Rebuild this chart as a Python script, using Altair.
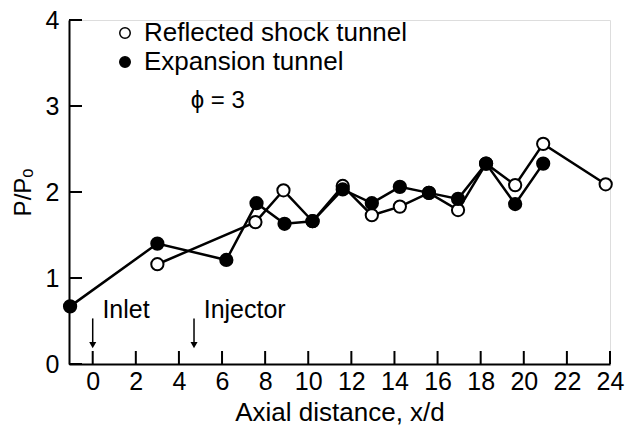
import altair as alt
import pandas as pd

# Reflected shock tunnel (open circles)
rst_x = [3.0, 7.55, 8.85, 10.2, 11.6, 12.95, 14.25, 15.6, 16.95, 18.25, 19.6, 20.9, 23.8]
rst_y = [1.16, 1.65, 2.02, 1.66, 2.07, 1.73, 1.83, 1.99, 1.79, 2.33, 2.08, 2.56, 2.09]
# Expansion tunnel (filled circles)
exp_x = [-1.05, 3.0, 6.2, 7.6, 8.9, 10.2, 11.6, 12.95, 14.25, 15.6, 16.95, 18.25, 19.6, 20.9]
exp_y = [0.67, 1.40, 1.21, 1.87, 1.63, 1.66, 2.03, 1.87, 2.06, 1.99, 1.92, 2.33, 1.86, 2.33]

series_names = ["Reflected shock tunnel", "Expansion tunnel"]
series_fill = ["white", "black"]

x_ticks = [0, 2, 4, 6, 8, 10, 12, 14, 16, 18, 20, 22, 24]
y_ticks = [0, 1, 2, 3, 4]

# annotations
arrow_x = [0.0, 4.7]
arrow_top = [0.53, 0.53]
arrow_bot = [0.22, 0.22]
ann_text = ["Inlet", "Injector"]
ann_x = [0.45, 5.15]
ann_y = [0.63, 0.63]
phi_text = ["\u03d5 = 3"]
phi_x = [5.8]
phi_y = [3.06]

FONT = "Liberation Sans"
FS = 25
FS2 = 26
W, H = 541, 344

rows = []
for x, y in zip(rst_x, rst_y):
    rows.append({"x": x, "y": y, "series": series_names[0], "o": 0})
for x, y in zip(exp_x, exp_y):
    rows.append({"x": x, "y": y, "series": series_names[1], "o": 1})
df = pd.DataFrame(rows)

xs = alt.Scale(domain=[-1.1, 24], nice=False, zero=False)
ys = alt.Scale(domain=[0, 4], nice=False, zero=False)

xaxis = alt.Axis(values=x_ticks, ticks=False, grid=False, domainColor="black", domainWidth=2,
                 labelFont=FONT, labelFontSize=FS, labelColor="black", labelPadding=5, format="d",
                 labelFlush=False, labelOverlap=False,
                 title="Axial distance, x/d", titleFont=FONT, titleFontSize=FS2,
                 titleFontWeight="normal", titleColor="black", titlePadding=5)
yaxis = alt.Axis(values=y_ticks, ticks=False, grid=False, domainColor="black", domainWidth=2,
                 labelFont=FONT, labelFontSize=FS, labelColor="black", labelPadding=10, format="d",
                 labelFlush=False, labelOverlap=False,
                 title="P/P\u2092", titleFont=FONT, titleFontSize=24,
                 titleFontWeight="normal", titleColor="black", titlePadding=10)

base = alt.Chart(df)
lines = base.mark_line(color="black", strokeWidth=2.5).encode(
    x=alt.X("x:Q", scale=xs, axis=xaxis),
    y=alt.Y("y:Q", scale=ys, axis=yaxis),
    detail="series:N",
    order="x:Q",
)
points = base.mark_point(shape="circle", size=150, stroke="black", strokeWidth=2, opacity=1, filled=False).encode(
    x=alt.X("x:Q", scale=xs),
    y=alt.Y("y:Q", scale=ys),
    fill=alt.Fill("series:N", scale=alt.Scale(domain=series_names, range=series_fill),
                  legend=alt.Legend(title=None, orient="none", legendX=43, legendY=0,
                                    labelFont=FONT, labelFontSize=FS2, labelColor="black", labelLimit=400,
                                    symbolType="circle", symbolSize=110, symbolStrokeColor="black",
                                    symbolStrokeWidth=1.5, rowPadding=3, labelOffset=6)),
    order="o:Q",
)

xt = alt.Chart(pd.DataFrame({"t": x_ticks})).mark_rule(color="black", strokeWidth=2).encode(
    x=alt.X("t:Q", scale=xs), y=alt.value(H), y2=alt.value(H - 13))
yt = alt.Chart(pd.DataFrame({"t": y_ticks})).mark_rule(color="black", strokeWidth=2).encode(
    y=alt.Y("t:Q", scale=ys), x=alt.value(0), x2=alt.value(13))

adf = pd.DataFrame({"x": arrow_x, "top": arrow_top, "bot": arrow_bot})
arrows = alt.Chart(adf).mark_rule(color="black", strokeWidth=1.5).encode(
    x=alt.X("x:Q", scale=xs), y=alt.Y("top:Q", scale=ys), y2="bot:Q")
heads = alt.Chart(adf).mark_point(shape="triangle-down", size=50, filled=True, color="black", opacity=1).encode(
    x=alt.X("x:Q", scale=xs), y=alt.Y("bot:Q", scale=ys))

tdf = pd.DataFrame({"x": ann_x, "y": ann_y, "t": ann_text})
texts = alt.Chart(tdf).mark_text(font=FONT, fontSize=FS, color="black", align="left", baseline="middle").encode(
    x=alt.X("x:Q", scale=xs), y=alt.Y("y:Q", scale=ys), text="t:N")
pdf = pd.DataFrame({"x": phi_x, "y": phi_y, "t": phi_text})
phi = alt.Chart(pdf).mark_text(font=FONT, fontSize=24, color="black", align="center", baseline="middle").encode(
    x=alt.X("x:Q", scale=xs), y=alt.Y("y:Q", scale=ys), text="t:N")

chart = alt.layer(lines, xt, yt, arrows, heads, texts, phi, points).properties(
    width=W, height=H, autosize=alt.AutoSizeParams(type="none"),
    padding={"left": 61, "top": 12, "right": 15, "bottom": 62},
).configure_view(stroke=None).configure(background="white")

chart.save("out.html", embed_options={"renderer": "svg", "actions": False})
